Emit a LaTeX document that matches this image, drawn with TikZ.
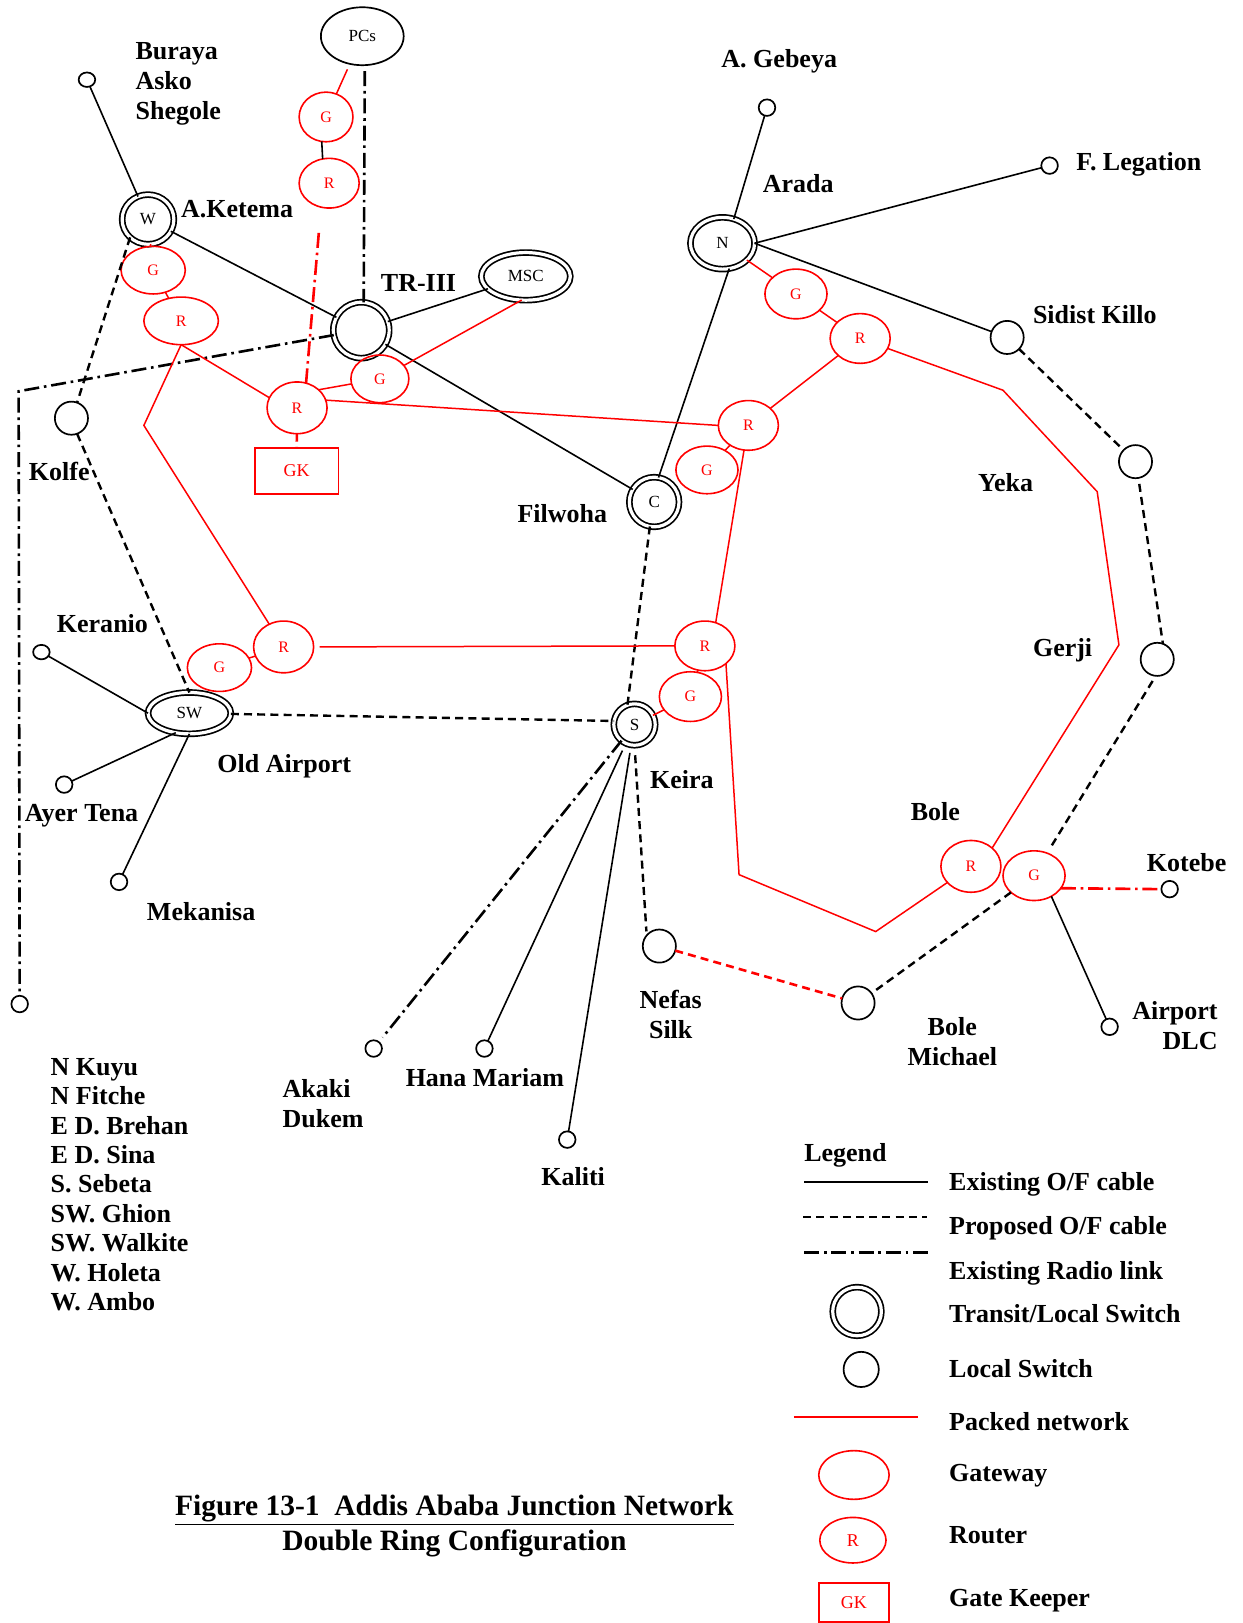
\documentclass[tikz,border=0pt]{standalone}
\usepackage{fontspec}
\setmainfont{Liberation Serif}
\usepackage{xcolor}
\usepackage{tikz}
\usetikzlibrary{positioning, shapes.geometric}
\definecolor{pktred}{HTML}{FF0000}

\begin{document}
\begin{tikzpicture}[
      x=0.5175pt, y=-0.5175pt,
      every node/.style={inner sep=0pt, outer sep=0pt},
      lab/.style={font=\fontsize{13}{15}\selectfont\bfseries, anchor=base west, align=left},
      labc/.style={font=\fontsize{13}{15}\selectfont\bfseries, anchor=base, align=center},
      dim/.style 2 args={minimum width=#1*1.035pt, minimum height=#2*1.035pt},
      sw/.style={ellipse, draw, line width=0.85pt, double, double distance=1.6pt, font=\fontsize{8.5}{10}\selectfont},
      loc/.style={ellipse, draw, line width=0.85pt, font=\fontsize{8.5}{10}\selectfont},
      gw/.style={ellipse, draw=pktred, line width=0.8pt, text=pktred, font=\fontsize{8}{10}\selectfont},
      gk/.style={rectangle, draw=pktred, line width=0.9pt, text=pktred, font=\fontsize{9}{10}\selectfont},
      oc/.style={line width=0.8pt},
      prop/.style={line width=1.2pt, dash pattern=on 4pt off 2.6pt},
      radio/.style={line width=1.3pt, dash pattern=on 7.5pt off 2.4pt on 1.3pt off 2.4pt},
      pkt/.style={draw=pktred, line width=0.75pt},
      pktprop/.style={draw=pktred, line width=1.3pt, dash pattern=on 4pt off 2.6pt},
      pktradio/.style={draw=pktred, line width=1.3pt, dash pattern=on 7.5pt off 2.4pt on 1.3pt off 2.4pt}
    ]
    \useasboundingbox (0,0) rectangle (1200,1568);

    % switches
    \node[loc, dim={40}{28}] (pcs) at (350,35) {PCs};
    \node[sw, dim={25}{24}] (aket) at (143,212) {W};
    \node[sw, dim={27}{27}] (tr) at (349,319) {};
    \node[sw, dim={43}{23}] (msc) at (508,267) {MSC};
    \node[sw, dim={31}{25}] (arada) at (698,235) {N};
    \node[sw, dim={24}{24}] (filw) at (632,485) {C};
    \node[sw, dim={20}{20}] (keira) at (613,700) {S};
    \node[sw, dim={40}{20}] (oldair) at (183,689) {SW};

    \node[loc, dim={16}{16}] (sidist) at (973,326) {};
    \node[loc, dim={16}{16}] (yeka) at (1097,446) {};
    \node[loc, dim={16}{16}] (gerji) at (1118,637) {};
    \node[loc, dim={16}{16}] (kolfe) at (69,404) {};
    \node[loc, dim={16}{16}] (nefas) at (637,914) {};
    \node[loc, dim={16}{16}] (bolem) at (829,969) {};

    \node[loc, dim={8}{7}] (buraya) at (84,77) {};
    \node[loc, dim={8}{8}] (gebeya) at (741,104) {};
    \node[loc, dim={8}{8}] (legat) at (1014,160) {};
    \node[loc, dim={8}{7}] (keran) at (40,630) {};
    \node[loc, dim={8}{8}] (ayer) at (62,758) {};
    \node[loc, dim={8}{8}] (meka) at (115,852) {};
    \node[loc, dim={8}{8}] (kuyu) at (19,970) {};
    \node[loc, dim={8}{8}] (akaki) at (361,1013) {};
    \node[loc, dim={8}{8}] (hana) at (468,1013) {};
    \node[loc, dim={8}{8}] (kaliti) at (548,1101) {};
    \node[loc, dim={8}{8}] (airport) at (1072,992) {};
    \node[loc, dim={8}{8}] (kotebe) at (1130,859) {};

    % gateways and routers
    \node[gw, dim={26}{24}] (gpc) at (315,113) {G};
    \node[gw, dim={29}{24}] (rpc) at (318,177) {R};
    \node[gw, dim={31}{23}] (gket) at (148,261) {G};
    \node[gw, dim={36}{23}] (rket) at (175,310) {R};
    \node[gw, dim={29}{25}] (rtr) at (287,394) {R};
    \node[gw, dim={28}{23}] (gtr) at (367,366) {G};
    \node[gk, minimum width=41.9pt, minimum height=22.8pt] (gktr) at (286.5,455) {GK};
    \node[gw, dim={30}{24}] (garada) at (769,284) {G};
    \node[gw, dim={29}{24}] (rarada) at (831,327) {R};
    \node[gw, dim={29}{24}] (rmid) at (723,411) {R};
    \node[gw, dim={30}{23}] (gfilw) at (683,454) {G};
    \node[gw, dim={29}{24}] (rkeira) at (681,624) {R};
    \node[gw, dim={30}{24}] (gkeira) at (667,673) {G};
    \node[gw, dim={29}{25}] (rold) at (274,625) {R};
    \node[gw, dim={31}{23}] (gold) at (212,645) {G};
    \node[gw, dim={29}{25}] (rbole) at (938,837) {R};
    \node[gw, dim={30}{24}] (gbole) at (999,846) {G};

    % bends
    \coordinate (c1) at (18,378);
    \coordinate (c2) at (139,411);
    \coordinate (c3) at (969,377);
    \coordinate (c4) at (1060,475);
    \coordinate (c5) at (1081,623);
    \coordinate (c6) at (714,845);
    \coordinate (c7) at (846,900);
    \coordinate (c8) at (308,225);

    % existing cable
    \draw[oc] (buraya) -- (aket);
    \draw[oc] (aket) -- (tr);
    \draw[oc] (tr) -- (msc);
    \draw[oc] (tr) -- (filw);
    \draw[oc] (filw.80) -- (arada.-75);
    \draw[oc] (arada.65) -- (gebeya);
    \draw[oc] (arada.east) -- (legat);
    \draw[oc] (arada.east) -- (sidist);
    \draw[oc] (oldair.west) -- (keran);
    \draw[oc] (oldair.-125) -- (ayer);
    \draw[oc] (oldair.south) -- (meka);
    \draw[oc, shorten <=4pt] (keira) -- (hana);
    \draw[oc, shorten <=4pt] (keira) -- (kaliti);
    \draw[oc] (gbole.-50) -- (airport);
    \draw[oc] (gpc.-100) -- (rpc.105);

    % proposed cable
    \draw[prop] (aket.225) -- (kolfe.70);
    \draw[prop] (kolfe.-70) -- (oldair.north);
    \draw[prop] (filw.-100) -- (keira.110);
    \draw[prop] (oldair) -- (keira.170);
    \draw[prop] (sidist) -- (yeka);
    \draw[prop, shorten <=3pt] (yeka.-80) -- (gerji.70);
    \draw[prop, shorten <=3pt, shorten >=2pt] (gerji.-95) -- (gbole.60);
    \draw[prop] (gbole) -- (bolem);
    \draw[prop, shorten <=5pt, shorten >=2pt] (keira.south) -- (nefas.140);

    % radio
    \draw[radio, shorten <=3pt] (pcs.-85) -- (tr.85);
    \draw[radio] (tr) -- (c1) -- (kuyu);
    \draw[radio, shorten >=3pt] (keira) -- (akaki);

    % packet network
    \draw[pkt, shorten <=3pt] (pcs) -- (gpc);
    \draw[pkt] (aket) -- (gket);
    \draw[pkt] (gket) -- (rket);
    \draw[pkt] (rket.south) -- (rtr.160);
    \draw[pkt] (rket.south) -- (c2) -- (rold);
    \draw[pkt] (rold) -- (gold);
    \draw[pkt, shorten <=3pt] (rold.east) -- (rkeira.west);
    \draw[pkt] (rtr.40) -- (gtr);
    \draw[pkt] (gtr) -- (msc.-100);
    \draw[pkt] (rtr.15) -- (rmid.west);
    \draw[pkt] (arada) -- (garada);
    \draw[pkt] (garada) -- (rarada);
    \draw[pkt] (rarada) -- (rmid);
    \draw[pkt] (rarada) -- (c3) -- (c4) -- (c5) -- (rbole.north east);
    \draw[pkt] (rmid.-100) -- (rkeira.65);
    \draw[pkt] (rmid) -- (gfilw);
    \draw[pkt] (rkeira) -- (gkeira);
    \draw[pkt] (gkeira) -- (keira);
    \draw[pkt] (rkeira.-40) -- (c6) -- (c7) -- (rbole);
    \draw[pktradio] (c8) -- (rtr.70);
    \draw[pktprop] (rtr) -- (gktr);
    \draw[pktprop] (nefas) -- (bolem);
    \draw[pktradio] (gbole.-25) -- (kotebe.west);

    % place names
    \node[lab] (lbur) at (131,115) {Buraya\\Asko\\Shegole};
    \node[lab] (lket) at (175,210) {A.Ketema};
    \node[lab] (ltr) at (368,282) {TR-III};
    \node[lab] (lkol) at (28,464) {Kolfe};
    \node[lab] (lfil) at (500,505) {Filwoha};
    \node[lab] (lker) at (55,611) {Keranio};
    \node[lab] (lold) at (210,746) {Old Airport};
    \node[lab] (layer) at (24,794) {Ayer Tena};
    \node[lab] (lmek) at (142,889) {Mekanisa};
    \node[lab] (lgeb) at (697,65) {A. Gebeya};
    \node[lab] (lara) at (737,186) {Arada};
    \node[lab] (lleg) at (1040,165) {F. Legation};
    \node[lab] (lsid) at (998,313) {Sidist Killo};
    \node[lab] (lyek) at (945,475) {Yeka};
    \node[lab] (lger) at (998,634) {Gerji};
    \node[lab] (lkei) at (628,762) {Keira};
    \node[lab] (lbol) at (880,793) {Bole};
    \node[lab] (lkot) at (1108,842) {Kotebe};
    \node[labc] (lnef) at (648,1003) {Nefas\\Silk};
    \node[labc] (lbom) at (920,1029) {Bole\\Michael};
    \node[lab, align=right] (lair) at (1094,1014) {Airport\\DLC};
    \node[lab] (laka) at (273,1089) {Akaki\\Dukem};
    \node[lab] (lhan) at (392,1050) {Hana Mariam};
    \node[lab] (lkal) at (523,1145) {Kaliti};
    \node[lab, font=\fontsize{13}{14.7}\selectfont\bfseries] (lkuy) at (49,1266) {N Kuyu\\N Fitche\\E D. Brehan\\E D. Sina\\S. Sebeta\\SW. Ghion\\SW. Walkite\\W. Holeta\\W. Ambo};

    % title
    \node[font=\fontsize{14.75}{17.5}\selectfont\bfseries, anchor=base, align=center] (title) at (439,1498)
      {\underline{Figure 13-1\ \ Addis Ababa Junction Network}\\Double Ring Configuration};

    % legend
    \node[lab] (lleg0) at (777,1122) {Legend};
    \coordinate (l1a) at (777,1142);  \coordinate (l1b) at (897,1142);
    \coordinate (l2a) at (776,1176);  \coordinate (l2b) at (896,1176);
    \coordinate (l3a) at (777,1210);  \coordinate (l3b) at (899,1210);
    \coordinate (l4a) at (767,1369);  \coordinate (l4b) at (887,1369);
    \draw[oc] (l1a) -- (l1b);
    \draw[prop] (l2a) -- (l2b);
    \draw[radio] (l3a) -- (l3b);
    \draw[pkt] (l4a) -- (l4b);
    \node[sw, dim={23.5}{23.5}] (kring) at (828,1267) {};
    \node[loc, dim={17}{17}] (kloc) at (832,1323) {};
    \node[gw, dim={34}{23.5}] (kgw) at (825,1425) {};
    \node[gw, dim={32}{22}, font=\fontsize{9}{10}\selectfont] (krt) at (824,1488) {R};
    \node[gk, minimum width=35.2pt, minimum height=19.7pt] (kgk) at (825,1548) {GK};
    \node[lab] (k1) at (917,1150) {Existing O/F cable};
    \node[lab] (k2) at (917,1193) {Proposed O/F cable};
    \node[lab] (k3) at (917,1236) {Existing Radio link};
    \node[lab] (k4) at (917,1278) {Transit/Local Switch};
    \node[lab] (k5) at (917,1331) {Local Switch};
    \node[lab] (k6) at (917,1382) {Packed network};
    \node[lab] (k7) at (917,1431) {Gateway};
    \node[lab] (k8) at (917,1491) {Router};
    \node[lab] (k9) at (917,1552) {Gate Keeper};
  \end{tikzpicture}
\end{document}
